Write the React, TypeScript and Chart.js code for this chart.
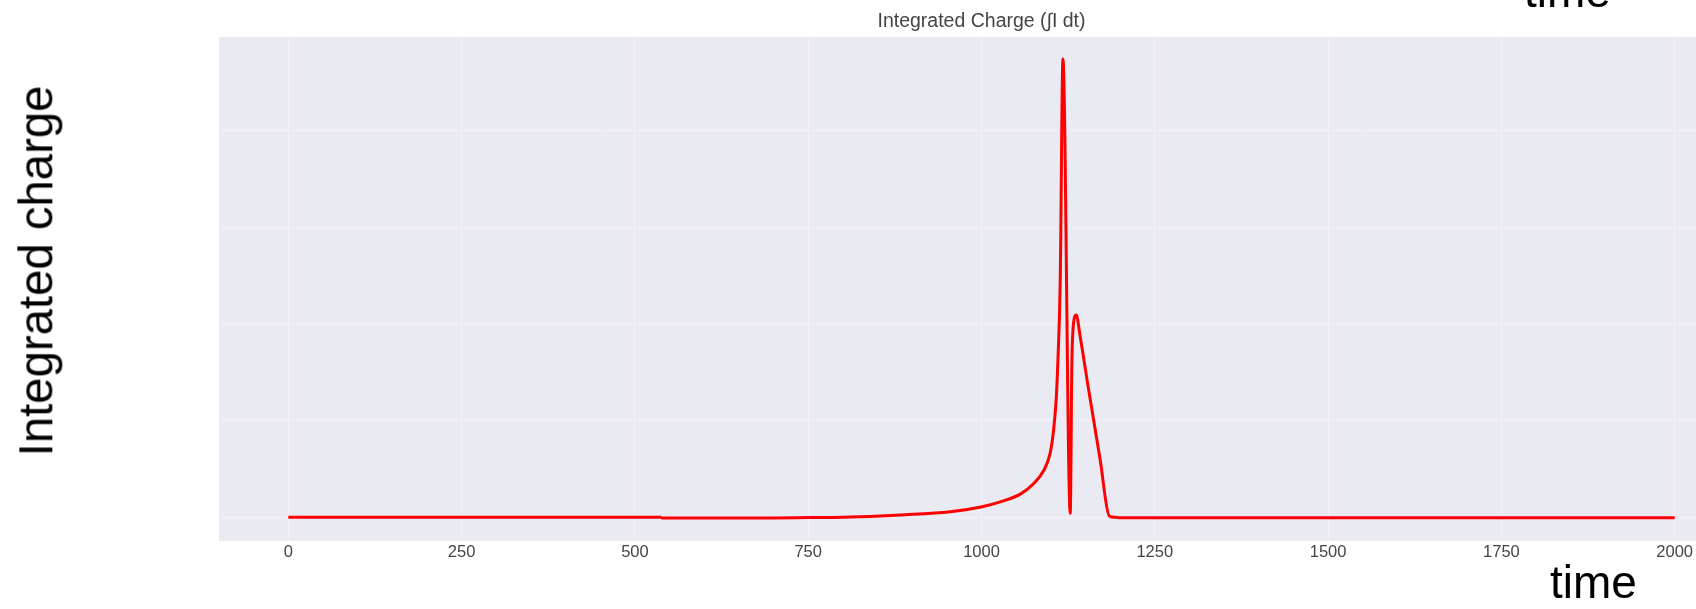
import React, { useEffect, useRef } from "react";
import { Chart, registerables } from "chart.js";

Chart.register(...registerables);

// ---- data ----
const timeValues = [
  0, 537, 540, 700, 750, 800, 854, 883, 955, 1001,
  1027, 1056, 1075, 1089.5, 1099, 1104, 1108, 1111, 1112.6, 1113.6,
  1117.5, 1128, 1130.4, 1132.8, 1136.6, 1142.4, 1154.4, 1171.2, 1184.3, 1193,
  1200, 2000,
];
const chargeValues = [
  0.005, 0.005, -0.003, -0.002, 0.002, 0.006, 0.019, 0.029, 0.063, 0.115,
  0.165, 0.245, 0.352, 0.486, 0.666, 0.907, 1.251, 1.768, 2.116, 2.457,
  4.74, 0.046, 1.599, 2.012, 2.095, 1.871, 1.33, 0.6, 0.019, 0.005,
  0.0, 0.0,
];
const xTickValues = [0, 250, 500, 750, 1000, 1250, 1500, 1750, 2000];
const yGridValues = [0, 1, 2, 3, 4];

const chartTitle = "Integrated Charge (\u222BI dt)";
const yAnnotation = "Integrated charge";
const xAnnotation = "time";

const plotBackground = {
  id: "plotBackground",
  beforeDraw(chart: any) {
    const { ctx, chartArea: a } = chart;
    ctx.save();
    ctx.fillStyle = "#EAEAF2";
    ctx.fillRect(a.left, a.top, a.right - a.left, a.bottom - a.top);
    ctx.restore();
  },
};

export default function App() {
  const canvasRef = useRef<HTMLCanvasElement | null>(null);

  useEffect(() => {
    const canvas = canvasRef.current;
    if (!canvas) return;
    const points = timeValues.map((t, i) => ({ x: t, y: chargeValues[i] }));
    const chart = new Chart(canvas, {
      type: "line",
      data: {
        datasets: [
          {
            label: "Integrated charge",
            data: points,
            borderColor: "#FF0000",
            borderWidth: 3,
            pointRadius: 0,
            cubicInterpolationMode: "monotone",
            fill: false,
          },
        ],
      },
      options: {
        animation: false,
        responsive: false,
        devicePixelRatio: 1,
        layout: { padding: { left: 219, right: 16, top: 0, bottom: 0 } },
        plugins: {
          legend: { display: false },
          tooltip: { enabled: false },
          title: {
            display: true,
            text: chartTitle,
            fullSize: false,
            color: "#444444",
            font: { family: "'Liberation Sans', Arial, sans-serif", size: 19.5, weight: "normal" },
            padding: { top: 10, bottom: 3.6 },
          },
        },
        scales: {
          x: {
            type: "linear",
            min: -100,
            max: 2100,
            afterBuildTicks: (axis: any) => {
              axis.ticks = xTickValues.map((v) => ({ value: v }));
            },
            afterFit: (axis: any) => {
              axis.height = 68;
            },
            border: { display: false },
            grid: { color: "#F1F1F6", lineWidth: 1, drawTicks: false },
            ticks: {
              autoSkip: false,
              maxRotation: 0,
              padding: 2,
              color: "#444444",
              font: { family: "'Liberation Sans', Arial, sans-serif", size: 16.5 },
              callback: (v: any) => String(v),
            },
          },
          y: {
            type: "linear",
            min: -0.2397,
            max: 4.967,
            afterBuildTicks: (axis: any) => {
              axis.ticks = yGridValues.map((v) => ({ value: v }));
            },
            afterFit: (axis: any) => {
              axis.width = 0;
            },
            border: { display: false },
            grid: { color: "#F1F1F6", lineWidth: 1, drawTicks: false },
            ticks: { display: false },
          },
        },
      },
      plugins: [plotBackground],
    } as any);
    return () => chart.destroy();
  }, []);

  const font = "'Liberation Sans', Arial, sans-serif";

  return (
    <div
      style={{
        position: "absolute",
        left: 0,
        top: 0,
        width: 1696,
        height: 609,
        overflow: "hidden",
        background: "#FFFFFF",
      }}
    >
      <canvas
        ref={canvasRef}
        width={1760}
        height={609}
        style={{ position: "absolute", left: 0, top: 0, width: 1760, height: 609 }}
      />
      <div
        style={{
          position: "absolute",
          left: 35.5,
          top: 271,
          transform: "translate(-50%, -50%) rotate(-90deg)",
          fontFamily: font,
          fontSize: 47.3,
          lineHeight: "47.3px",
          whiteSpace: "nowrap",
          color: "#000000",
        }}
      >
        {yAnnotation}
      </div>
      <div
        style={{
          position: "absolute",
          left: 1550,
          top: 559.4,
          fontFamily: font,
          fontSize: 46,
          lineHeight: "46px",
          whiteSpace: "nowrap",
          color: "#000000",
        }}
      >
        {xAnnotation}
      </div>
      <div
        style={{
          position: "absolute",
          left: 1524,
          top: -32,
          fontFamily: font,
          fontSize: 46,
          lineHeight: "46px",
          whiteSpace: "nowrap",
          color: "#000000",
        }}
      >
        {xAnnotation}
      </div>
    </div>
  );
}
